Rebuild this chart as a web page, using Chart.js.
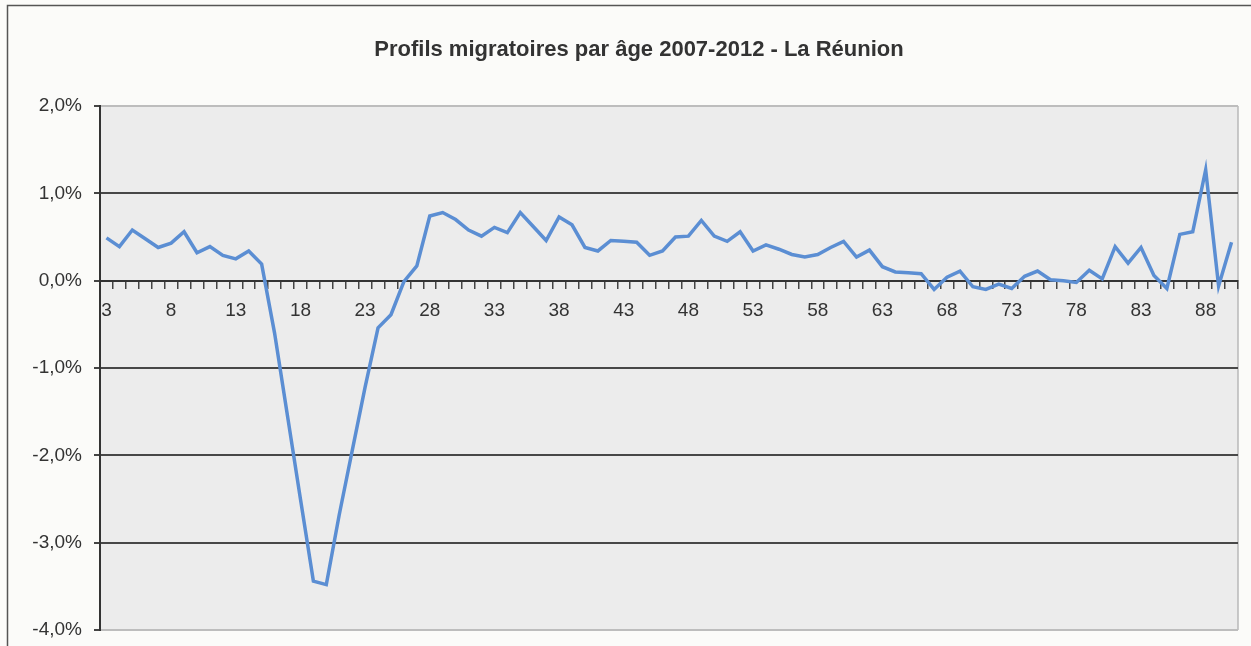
<!DOCTYPE html>
<html>
<head>
<meta charset="utf-8">
<title>Profils migratoires par âge 2007-2012 - La Réunion</title>
<script src="https://cdn.jsdelivr.net/npm/chart.js"></script>
<style>
  html, body { margin: 0; padding: 0; background: #fbfbf9; }
  canvas { display: block; }
</style>
</head>
<body>
<canvas id="grafico-migration" width="1251" height="646"></canvas>
<script>
// ages (categories)
const ages = [
  3, 4, 5, 6, 7, 8, 9, 10, 11, 12, 13, 14, 15, 16, 17, 18, 19, 20, 21, 22,
  23, 24, 25, 26, 27, 28, 29, 30, 31, 32, 33, 34, 35, 36, 37, 38, 39, 40, 41, 42,
  43, 44, 45, 46, 47, 48, 49, 50, 51, 52, 53, 54, 55, 56, 57, 58, 59, 60, 61, 62,
  63, 64, 65, 66, 67, 68, 69, 70, 71, 72, 73, 74, 75, 76, 77, 78, 79, 80, 81, 82,
  83, 84, 85, 86, 87, 88, 89, 90
];

// taux migratoire net par âge, en %
const tauxMigratoire = [
  0.49, 0.39, 0.58, 0.48, 0.38, 0.43, 0.56, 0.32, 0.39, 0.29, 0.25, 0.34, 0.19, -0.60, -1.55, -2.50, -3.44, -3.48, -2.68, -1.95,
  -1.22, -0.54, -0.39, -0.01, 0.17, 0.74, 0.78, 0.70, 0.58, 0.51, 0.61, 0.55, 0.78, 0.62, 0.46, 0.73, 0.64, 0.38, 0.34, 0.46,
  0.45, 0.44, 0.29, 0.34, 0.50, 0.51, 0.69, 0.51, 0.45, 0.56, 0.34, 0.41, 0.36, 0.30, 0.27, 0.30, 0.38, 0.45, 0.27, 0.35,
  0.16, 0.10, 0.09, 0.08, -0.10, 0.04, 0.11, -0.07, -0.10, -0.04, -0.09, 0.05, 0.11, 0.01, 0.00, -0.02, 0.12, 0.02, 0.39, 0.20,
  0.38, 0.06, -0.09, 0.53, 0.56, 1.27, -0.06, 0.44
];

// axe vertical
const yMin = -4;
const yMax = 2;
const yStep = 1;

const titre = 'Profils migratoires par âge 2007-2012 - La Réunion';

const police = '"Liberation Sans", Arial, sans-serif';
const gris = '#333333';

// fond de page, fond de la zone de tracé, cadre et titre
const fondPlugin = {
    id: 'fond',
    beforeDraw(chart) {
        const ctx = chart.ctx;
        const a = chart.chartArea;
        ctx.save();
        ctx.fillStyle = '#fbfbf9';
        ctx.fillRect(0, 0, chart.width, chart.height);
        ctx.fillStyle = '#ececec';
        ctx.fillRect(a.left, a.top, a.right - a.left, a.bottom - a.top);
        // cadre extérieur
        ctx.strokeStyle = '#555555';
        ctx.lineWidth = 1.5;
        ctx.beginPath();
        ctx.moveTo(7.5, chart.height);
        ctx.lineTo(7.5, 5.5);
        ctx.lineTo(chart.width, 5.5);
        ctx.stroke();
        // bord droit de la zone de tracé
        ctx.strokeStyle = '#b8b8b8';
        ctx.lineWidth = 1.5;
        ctx.beginPath();
        ctx.moveTo(a.right, a.top);
        ctx.lineTo(a.right, a.bottom);
        ctx.stroke();
        // titre
        ctx.fillStyle = gris;
        ctx.font = 'bold 22px ' + police;
        ctx.textAlign = 'center';
        ctx.textBaseline = 'middle';
        ctx.fillText(titre, 639, 50);
        ctx.restore();
    }
};

const ctx = document.getElementById('grafico-migration').getContext('2d');
new Chart(ctx, {
    type: 'line',
    data: {
        labels: ages,
        datasets: [
            {
                data: tauxMigratoire,
                borderColor: '#5b8ed3',
                borderWidth: 3.5,
                pointRadius: 0,
                tension: 0,
                fill: false,
            },
        ],
    },
    options: {
        responsive: false,
        animation: false,
        devicePixelRatio: 1,
        layout: { padding: { left: 12, right: 13, top: 106, bottom: 16 } },
        plugins: {
            legend: { display: false },
            tooltip: { enabled: false },
            title: { display: false },
        },
        scales: {
            y: {
                min: yMin,
                max: yMax,
                afterFit(scale) {
                    scale.width = 88;
                    scale.paddingTop = 0;
                    scale.paddingBottom = 0;
                },
                ticks: {
                    stepSize: yStep,
                    color: gris,
                    padding: 12,
                    font: { family: police, size: 19 },
                    callback: (v) => v.toFixed(1).replace('.', ',') + '%',
                },
                grid: {
                    color: (c) => (c.tick && (c.tick.value === yMax || c.tick.value === yMin)) ? '#bdbdbd' : '#474747',
                    lineWidth: 2,
                    tickLength: 6,
                    tickColor: '#444444',
                },
                border: { color: '#333333', width: 2 },
            },
            x: {
                type: 'category',
                position: { y: 0 },
                offset: true,
                afterFit(scale) {
                    scale.paddingTop = 0;
                    scale.paddingBottom = 0;
                },
                ticks: {
                    autoSkip: false,
                    maxRotation: 0,
                    color: gris,
                    padding: 12,
                    font: { family: police, size: 19 },
                    callback: (v, i) => (i % 5 === 0 ? String(ages[i]) : ''),
                },
                grid: {
                    offset: true,
                    drawOnChartArea: false,
                    tickLength: 7,
                    tickColor: '#444444',
                    lineWidth: 1.5,
                },
                border: { color: '#333333', width: 2 },
            },
        },
    },
    plugins: [fondPlugin],
});
</script>
</body>
</html>
